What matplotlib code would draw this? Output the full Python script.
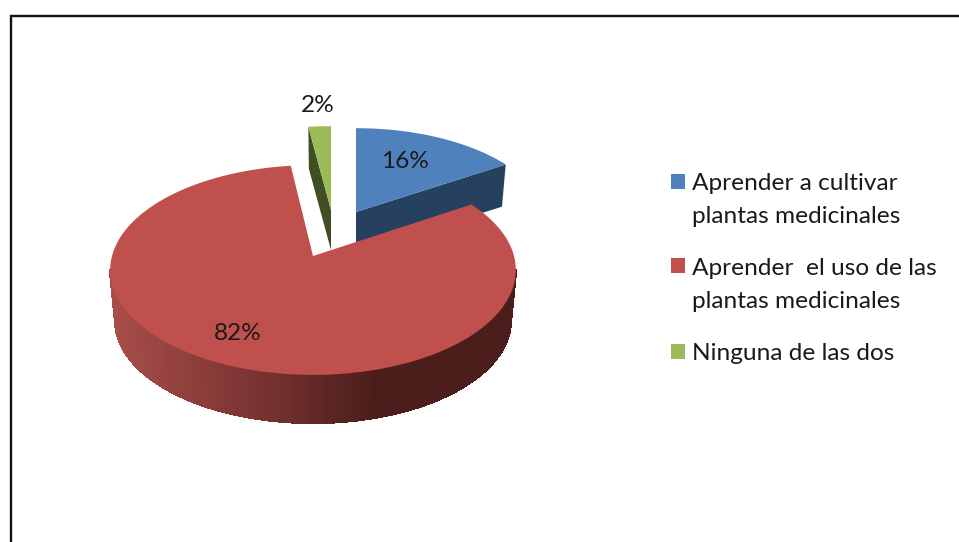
import numpy as np
import matplotlib
matplotlib.use('Agg')
import matplotlib.pyplot as plt
from matplotlib.colors import LinearSegmentedColormap
from matplotlib.collections import PolyCollection
from matplotlib.patches import Rectangle

# datos
categorias = ['Aprender a cultivar\nplantas medicinales',
              'Aprender  el uso de las\nplantas medicinales',
              'Ninguna de las dos']
valores = [16, 82, 2]
colores = ['#4F81BD', '#C0504D', '#9BBB59']
oscuros = ['#264060', '#4B1E1C', '#3F4F23']

# geometria de cada porcion: vertice x, y, radios, fondo
vertices = [(356, 212), (313, 256), (331, 210)]
radios = [(190, 95), (201, 103), (205, 95)]
fondos = [41, 51, 40]
k = 0.1335  # perspectiva
posicion_pct = [(405, 161), (238, 333), (318, 106)]
leyenda_y = [200, 285, 353]
cuadro_y = [181, 265.5, 351.5]


def borde(i, theta, escala=1.0, baja=0):
    # punto del borde de la porcion i para un angulo (desde las 12, horario)
    u, v = np.sin(theta), np.cos(theta)
    w = 1 + k * v
    x = vertices[i][0] + escala * radios[i][0] * u / w
    y = vertices[i][1] + baja - escala * radios[i][1] * v / w
    return x, y


def tapa(i, a0, a1):
    t = np.linspace(a0, a1, 200)
    x, y = borde(i, t)
    return np.r_[vertices[i][0], x], np.r_[vertices[i][1], y]


def cara(ax, i, theta):
    # cara plana del corte, del vertice al borde
    x, y = borde(i, theta)
    x2, y2 = borde(i, theta, 0.975, fondos[i])
    vx, vy = vertices[i]
    ax.fill([vx, x, x2, vx], [vy, y, y2, vy + fondos[i]], color=oscuros[i], lw=0)


fig = plt.figure(figsize=(9.59, 5.42), dpi=100)
ax = fig.add_axes([0, 0, 1, 1])
ax.set_xlim(0, 959)
ax.set_ylim(542, 0)
ax.axis('off')

# marco
ax.plot([11, 11, 959], [542, 15.5, 15.5], color='#111111', lw=1.7, solid_joinstyle='miter')

fin = np.cumsum(valores) / np.sum(valores) * 2 * np.pi
inicio = np.r_[0, fin[:-1]]

# azul
cara(ax, 0, fin[0])
x, y = tapa(0, inicio[0], fin[0])
ax.fill(x, y, color=colores[0], lw=0)

# verde
cara(ax, 2, inicio[2])
x, y = tapa(2, inicio[2], fin[2])
ax.fill(x, y, color=colores[2], lw=0)

# rojo: pared con degradado y tapa, solo la parte de delante
grad = LinearSegmentedColormap.from_list('pared', ['#A84D4A', '#8C3E3B', '#6E2E2C', '#4B1E1C'])
t = np.linspace(inicio[1], fin[1], 400)
xa, ya = borde(1, t)
t = t[np.argmax(xa):np.argmin(xa) + 1]
xa, ya = borde(1, t)
xb, yb = borde(1, t, 0.975, fondos[1])
quads = [[(xa[j], ya[j]), (xa[j + 1], ya[j + 1]), (xb[j + 1], yb[j + 1]), (xb[j], yb[j])] for j in range(len(t) - 1)]
tonos = np.clip((xa[:-1] - 110) / 265, 0, 1)
ax.add_collection(PolyCollection(quads, facecolors=grad(tonos), edgecolors=grad(tonos), linewidths=1.0, antialiaseds=False))
x, y = tapa(1, inicio[1], fin[1])
ax.fill(x, y, color=colores[1], lw=0)

# porcentajes
fuente = 'Lato'
for v, p in zip(valores, posicion_pct):
    ax.text(p[0], p[1], f'{v}%', ha='center', va='center', fontsize=17.6, family=fuente, color='#1a1a1a')

# leyenda
for i in range(3):
    ax.add_patch(Rectangle((671, cuadro_y[i] - 7.5), 14, 15, color=colores[i], lw=0))
    ax.text(692, leyenda_y[i], categorias[i], ha='left', va='center', fontsize=17.6, family=fuente,
            color='#1a1a1a', linespacing=1.74)

plt.savefig('out.png', dpi=100)
